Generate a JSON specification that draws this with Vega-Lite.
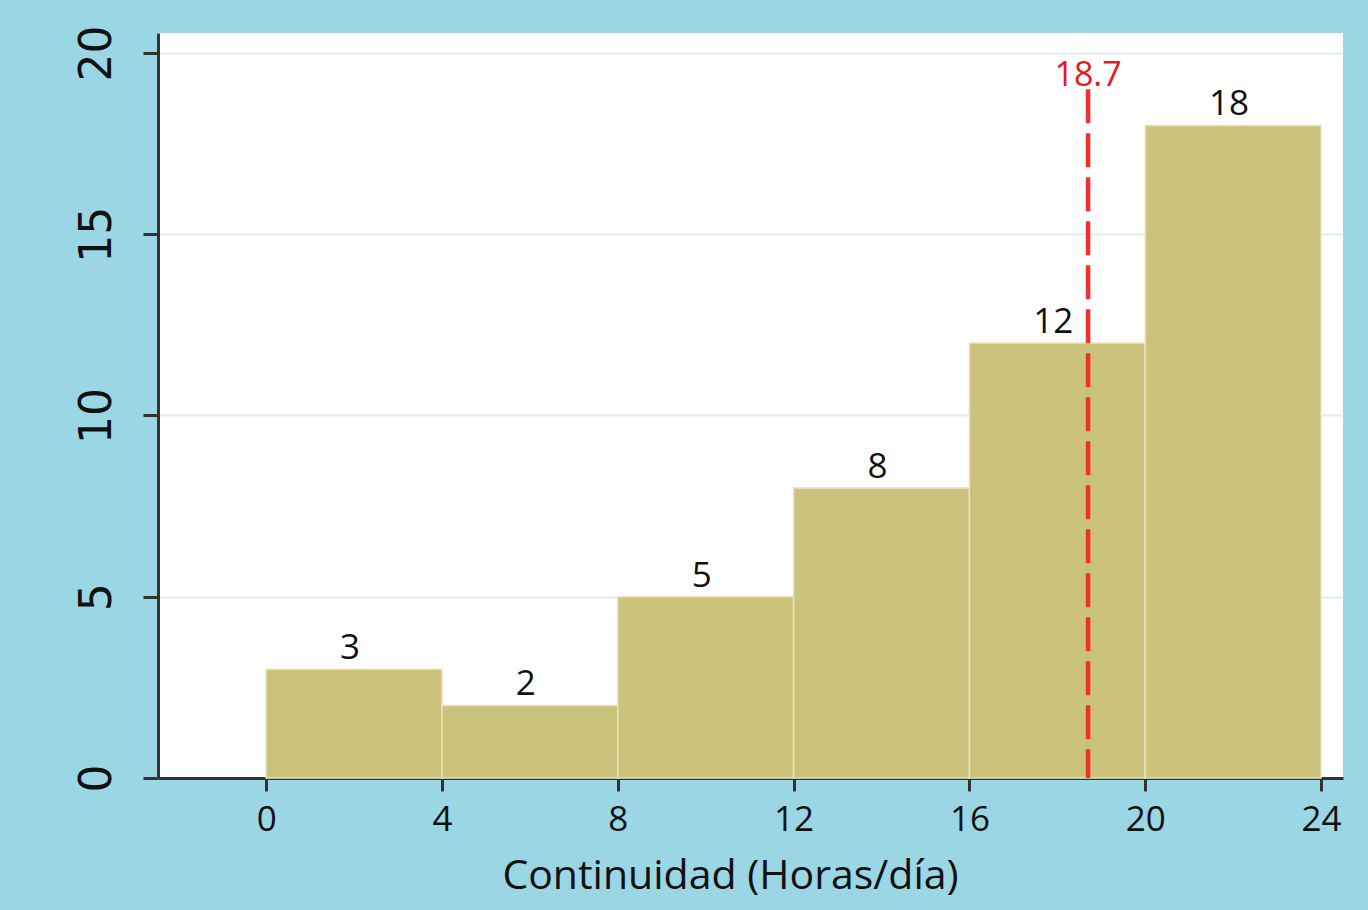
{
  "$schema": "https://vega.github.io/schema/vega-lite/v6.json",
  "width": 1185,
  "height": 745,
  "autosize": {"type": "none"},
  "padding": {"left": 158, "top": 33, "right": 25, "bottom": 132},
  "background": "#9bd6e5",
  "config": {
    "view": {"stroke": null, "fill": "white"},
    "font": "Open Sans"
  },
  "datasets": {
    "bins": [
      {"start": 0, "end": 4, "count": 3},
      {"start": 4, "end": 8, "count": 2},
      {"start": 8, "end": 12, "count": 5},
      {"start": 12, "end": 16, "count": 8},
      {"start": 16, "end": 20, "count": 12},
      {"start": 20, "end": 24, "count": 18}
    ],
    "mean": [{"value": 18.7, "top": 19, "label": "18.7"}]
  },
  "layer": [
    {
      "data": {"name": "bins"},
      "mark": {"type": "bar", "color": "#cbc27c", "stroke": "#e9e3bd", "strokeWidth": 1.5},
      "encoding": {
        "x": {
          "field": "start",
          "type": "quantitative",
          "scale": {"domain": [-2.46, 24.5], "nice": false, "zero": false},
          "axis": {
            "values": [0, 4, 8, 12, 16, 20, 24],
            "title": "Continuidad (Horas/día)",
            "titleFont": "Open Sans",
            "titleFontSize": 41,
            "titleFontWeight": "normal",
            "titleColor": "#111111",
            "titleX": 572,
            "titleY": 110,
            "titleAnchor": "middle",
            "titleAlign": "center",
            "titleBaseline": "alphabetic",
            "labelFont": "Open Sans",
            "labelFontSize": 35,
            "labelColor": "#111111",
            "labelPadding": 11,
            "tickSize": 13,
            "tickWidth": 3,
            "tickColor": "#333333",
            "domainColor": "#333333",
            "domainWidth": 3,
            "grid": false
          }
        },
        "x2": {"field": "end"},
        "y": {
          "field": "count",
          "type": "quantitative",
          "scale": {"domain": [0, 20.55], "nice": false},
          "axis": {
            "values": [0, 5, 10, 15, 20],
            "title": null,
            "labelAngle": -90,
            "labelAlign": "center",
            "labelBaseline": "alphabetic",
            "labelFont": "DejaVu Sans",
            "labelFontSize": 44,
            "labelColor": "#111111",
            "labelPadding": 33,
            "tickSize": 15,
            "tickWidth": 3,
            "tickColor": "#333333",
            "domainColor": "#333333",
            "domainWidth": 3,
            "grid": true,
            "gridColor": "#e3ecef",
            "gridWidth": 2
          }
        },
        "y2": {"datum": 0}
      }
    },
    {
      "data": {"name": "bins"},
      "transform": [{"calculate": "(datum.start + datum.end) / 2", "as": "mid"}],
      "mark": {"type": "text", "font": "Open Sans", "fontSize": 35, "color": "#111111", "baseline": "alphabetic", "dy": -10, "dx": -4},
      "encoding": {
        "x": {"field": "mid", "type": "quantitative"},
        "y": {"field": "count", "type": "quantitative"},
        "text": {"field": "count", "type": "quantitative"}
      }
    },
    {
      "data": {"name": "mean"},
      "mark": {"type": "rule", "color": "#f2302f", "strokeWidth": 4.5, "strokeDash": [34, 10]},
      "encoding": {
        "x": {"field": "value", "type": "quantitative"},
        "y": {"field": "top", "type": "quantitative"},
        "y2": {"datum": 0}
      }
    },
    {
      "data": {"name": "mean"},
      "mark": {"type": "text", "font": "Open Sans", "fontSize": 34, "color": "#e8181c", "baseline": "alphabetic", "dy": -3},
      "encoding": {
        "x": {"field": "value", "type": "quantitative"},
        "y": {"field": "top", "type": "quantitative"},
        "text": {"field": "label", "type": "nominal"}
      }
    }
  ]
}
